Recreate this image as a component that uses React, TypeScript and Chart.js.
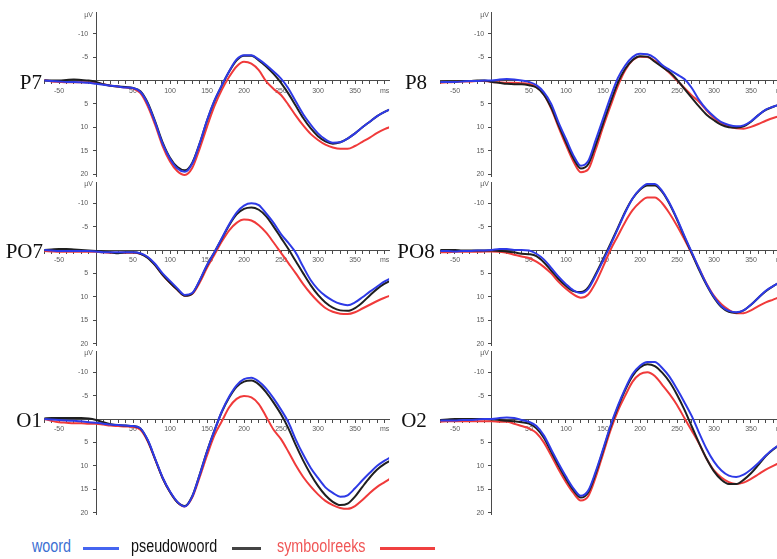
import React, { useEffect, useRef } from 'react';
import { Chart, registerables } from 'chart.js';

Chart.register(...registerables);

// time axis (ms)
const times = [-70, -60, -50, -40, -30, -20, -10, 0, 10, 20, 30, 40, 50, 60, 70, 80, 90, 100, 110, 120, 130, 140, 150, 160, 170, 180, 190, 200, 210, 220, 230, 240, 250, 260, 270, 280, 290, 300, 310, 320, 330, 340, 350, 360, 370, 380, 390, 400];

// amplitude tick labels (µV, negative up)
const yTickValues = [-10, -5, 0, 5, 10, 15, 20];

const p7Woord = [0.0, 0.1, 0.2, 0.3, 0.3, 0.4, 0.5, 0.7, 0.9, 1.1, 1.3, 1.5, 1.6, 2.4, 5.0, 9.0, 13.5, 16.7, 18.8, 19.5, 17.8, 13.5, 8.5, 4.3, 1.0, -2.0, -4.5, -5.4, -5.4, -4.5, -3.3, -1.9, -0.4, 1.7, 4.5, 7.2, 9.4, 11.3, 12.6, 13.3, 13.2, 12.4, 11.3, 10.0, 8.8, 7.6, 6.7, 6.0];
const p7Pseudo = [0.0, 0.0, 0.0, -0.1, -0.2, -0.1, 0.0, 0.3, 0.8, 1.1, 1.3, 1.4, 1.6, 2.3, 4.8, 8.8, 13.2, 16.5, 18.5, 19.2, 17.6, 13.5, 8.6, 4.4, 1.1, -1.9, -4.3, -5.3, -5.3, -4.3, -3.0, -1.4, 0.5, 2.8, 5.4, 8.0, 10.2, 11.9, 13.0, 13.5, 13.2, 12.4, 11.3, 10.0, 8.8, 7.6, 6.7, 6.0];
const p7Symbool = [-0.1, 0.2, 0.3, 0.4, 0.4, 0.4, 0.4, 0.5, 0.8, 1.1, 1.3, 1.5, 1.7, 2.7, 5.5, 9.5, 14.0, 17.3, 19.4, 20.2, 18.7, 14.6, 9.9, 5.5, 2.0, -0.8, -3.0, -4.0, -3.6, -2.2, 0.2, 1.8, 3.1, 5.2, 7.5, 9.6, 11.4, 12.7, 13.7, 14.3, 14.6, 14.6, 14.0, 13.1, 12.2, 11.2, 10.4, 9.8];

const p8Woord = [0.3, 0.3, 0.3, 0.2, 0.1, 0.1, 0.0, 0.0, -0.2, -0.3, -0.2, 0.0, 0.3, 1.0, 2.5, 5.0, 9.0, 12.5, 16.0, 18.2, 17.2, 12.8, 8.2, 3.6, -0.5, -3.2, -5.0, -5.7, -5.6, -4.8, -3.3, -2.3, -1.3, -0.3, 1.6, 4.2, 6.2, 7.7, 8.9, 9.5, 9.8, 9.6, 8.7, 7.4, 6.2, 5.6, 5.1, 4.7];
const p8Pseudo = [0.3, 0.2, 0.2, 0.1, 0.1, 0.0, 0.0, 0.3, 0.5, 0.7, 0.8, 0.8, 1.0, 1.5, 3.0, 5.8, 9.6, 13.2, 16.6, 18.8, 17.9, 13.8, 9.2, 4.7, 0.5, -2.5, -4.4, -5.2, -5.1, -4.0, -2.9, -1.8, -0.2, 1.8, 3.7, 5.6, 7.3, 8.5, 9.5, 10.0, 10.1, 9.8, 8.8, 7.4, 6.3, 5.6, 5.1, 4.7];
const p8Symbool = [0.5, 0.4, 0.3, 0.2, 0.2, 0.1, 0.1, 0.3, 0.4, 0.5, 0.5, 0.6, 0.7, 1.4, 3.0, 6.0, 10.0, 13.8, 17.3, 19.6, 19.0, 14.8, 10.0, 5.5, 1.2, -2.2, -4.3, -5.1, -5.0, -4.2, -3.0, -1.6, 0.0, 1.6, 3.2, 4.6, 6.4, 8.0, 9.1, 9.8, 10.2, 10.3, 9.9, 9.3, 8.6, 8.0, 7.6, 7.3];

const po7Woord = [0.0, 0.1, 0.2, 0.2, 0.2, 0.2, 0.2, 0.3, 0.5, 0.5, 0.5, 0.5, 0.5, 0.7, 1.5, 3.0, 5.0, 6.6, 8.2, 9.6, 9.2, 6.5, 3.2, 0.5, -2.5, -5.5, -8.0, -9.5, -10.0, -9.6, -7.8, -5.8, -3.4, -1.5, 0.6, 3.6, 6.4, 8.4, 9.8, 10.8, 11.5, 11.8, 11.2, 10.1, 8.9, 7.8, 6.7, 5.9];
const po7Pseudo = [0.0, -0.1, -0.2, -0.2, -0.1, 0.0, 0.1, 0.2, 0.3, 0.5, 0.7, 0.5, 0.5, 0.8, 1.7, 3.3, 5.3, 7.0, 8.5, 9.8, 9.3, 6.6, 3.3, 0.5, -2.4, -5.3, -7.6, -8.8, -9.1, -8.6, -7.2, -5.0, -2.6, -0.2, 2.4, 5.0, 7.5, 9.6, 11.2, 12.3, 12.9, 13.0, 12.4, 11.2, 9.7, 8.3, 7.2, 6.4];
const po7Symbool = [0.2, 0.3, 0.4, 0.4, 0.4, 0.4, 0.4, 0.4, 0.5, 0.6, 0.6, 0.6, 0.6, 0.8, 1.6, 3.2, 5.3, 7.0, 8.5, 9.8, 9.4, 7.0, 3.8, 1.0, -1.8, -4.2, -5.8, -6.5, -6.3, -5.3, -3.7, -1.6, 0.6, 2.8, 5.0, 7.3, 9.3, 11.0, 12.4, 13.2, 13.6, 13.7, 13.3, 12.5, 11.7, 10.9, 10.2, 9.6];

const po8Woord = [0.2, 0.2, 0.3, 0.2, 0.2, 0.1, 0.1, 0.0, -0.2, -0.2, 0.0, 0.0, 0.1, 0.8, 2.0, 3.8, 5.7, 7.3, 8.6, 9.2, 8.3, 5.5, 2.3, -1.0, -4.5, -8.0, -11.0, -13.0, -14.1, -14.1, -12.6, -10.0, -6.7, -3.0, 0.5, 4.0, 7.3, 10.0, 12.0, 13.0, 13.3, 12.9, 11.7, 10.2, 8.7, 7.7, 6.8, 6.3];
const po8Pseudo = [0.0, 0.0, 0.0, 0.1, 0.1, 0.1, 0.1, 0.1, 0.2, 0.3, 0.5, 0.8, 0.9, 1.3, 2.6, 4.4, 6.2, 7.7, 8.8, 9.0, 8.0, 5.2, 2.0, -1.3, -4.7, -8.2, -11.0, -12.9, -13.8, -13.8, -12.4, -9.8, -6.5, -2.8, 0.7, 4.3, 7.5, 10.2, 12.2, 13.2, 13.4, 12.9, 11.7, 10.2, 8.8, 7.7, 6.8, 6.3];
const po8Symbool = [0.5, 0.5, 0.4, 0.4, 0.4, 0.4, 0.3, 0.3, 0.4, 0.6, 1.0, 1.4, 1.7, 2.5, 3.6, 5.0, 6.8, 8.3, 9.5, 10.2, 9.5, 7.0, 3.6, 0.0, -3.0, -6.0, -8.5, -10.2, -11.2, -11.2, -10.0, -7.8, -5.2, -2.3, 0.8, 4.0, 7.2, 9.8, 11.6, 12.8, 13.5, 13.5, 12.9, 12.0, 11.2, 10.6, 10.0, 9.6];

const o1Woord = [0.0, 0.1, 0.2, 0.3, 0.4, 0.5, 0.7, 0.8, 1.0, 1.2, 1.3, 1.4, 1.5, 2.0, 4.5, 8.5, 12.5, 15.5, 17.7, 18.7, 16.6, 12.0, 7.0, 2.5, -1.6, -4.8, -7.2, -8.5, -8.8, -8.0, -6.5, -4.4, -2.0, 0.7, 4.4, 7.6, 10.4, 12.6, 14.6, 15.8, 16.6, 16.3, 14.8, 13.1, 11.5, 10.0, 8.9, 8.0];
const o1Pseudo = [-0.1, -0.2, -0.2, -0.2, -0.2, -0.2, -0.1, 0.2, 0.7, 1.1, 1.3, 1.4, 1.5, 2.0, 4.6, 8.6, 12.6, 15.6, 17.8, 18.6, 16.5, 11.9, 6.9, 2.5, -1.5, -4.6, -6.9, -8.0, -8.2, -7.4, -5.7, -3.5, -1.0, 2.0, 5.6, 8.9, 11.8, 14.3, 16.3, 17.7, 18.4, 18.1, 16.6, 14.5, 12.5, 10.8, 9.6, 8.7];
const o1Symbool = [0.0, 0.4, 0.7, 0.8, 0.9, 0.9, 1.0, 1.0, 1.2, 1.4, 1.5, 1.6, 1.7, 2.3, 4.8, 8.7, 12.6, 15.6, 17.8, 18.7, 16.8, 12.5, 7.8, 3.5, 0.5, -2.5, -4.3, -4.9, -4.6, -3.2, -0.5, 2.3, 4.3, 7.0, 9.9, 12.4, 14.4, 16.1, 17.5, 18.4, 19.0, 19.2, 18.6, 17.3, 15.8, 14.5, 13.5, 12.5];

const o2Woord = [0.3, 0.3, 0.3, 0.2, 0.2, 0.1, 0.0, 0.0, -0.2, -0.3, -0.2, 0.2, 0.6, 1.5, 3.5, 6.5, 9.5, 12.3, 14.8, 16.4, 15.3, 11.3, 6.5, 1.5, -2.8, -6.5, -9.6, -11.4, -12.2, -12.2, -10.9, -9.0, -6.4, -3.6, -0.6, 3.0, 6.4, 9.1, 11.0, 12.1, 12.4, 11.9, 10.8, 9.4, 7.8, 6.4, 5.4, 4.7];
const o2Pseudo = [0.2, 0.1, 0.0, 0.0, 0.0, 0.0, 0.0, 0.1, 0.2, 0.4, 0.5, 0.7, 1.0, 2.0, 4.0, 7.0, 10.0, 12.8, 15.2, 16.8, 15.7, 11.7, 6.8, 1.8, -2.5, -6.2, -9.2, -11.0, -11.7, -11.3, -9.9, -7.9, -5.2, -2.0, 1.6, 5.2, 8.5, 11.2, 13.0, 13.9, 13.9, 13.0, 11.6, 9.8, 7.9, 6.5, 5.4, 4.7];
const o2Symbool = [0.6, 0.5, 0.5, 0.5, 0.5, 0.5, 0.5, 0.5, 0.6, 0.6, 1.0, 1.5, 2.0, 3.0, 5.0, 7.8, 10.8, 13.5, 15.8, 17.4, 16.5, 12.5, 7.5, 2.5, -1.7, -5.0, -8.0, -9.6, -10.0, -9.2, -7.3, -5.3, -3.0, -0.2, 2.5, 5.3, 8.5, 11.0, 12.5, 13.5, 13.9, 13.6, 12.8, 11.8, 10.8, 10.0, 9.3, 8.8];

const seriesNames = ['woord', 'pseudowoord', 'symboolreeks'];

const BLUE = '#2e3ae6';
const BLACK = '#1f1f1f';
const RED = '#f03a3a';
const AXIS = '#4a4a4a';
const TICK = '#5a5a5a';
const SANS = "'Liberation Sans', Arial, sans-serif";
const SERIF = "'Liberation Serif', 'Times New Roman', serif";

const X_MIN = -70;
const X_MAX = 396;
const Y_MIN = -14.5;
const Y_MAX = 20.5;
const PX_MS = 0.74;
const PX_UV = 4.68;

type PanelProps = {
  name: string;
  axisX: number;
  zeroY: number;
  woord: number[];
  pseudo: number[];
  symbool: number[];
  nameLeft: number;
  nameWidth: number;
  nameAlign: 'right' | 'center';
};

function mkDataset(label: string, values: number[], color: string) {
  return {
    label,
    data: times.map((t, i) => ({ x: t, y: values[i] })),
    borderColor: color,
    backgroundColor: color,
    borderWidth: 2,
    pointRadius: 0,
    cubicInterpolationMode: 'monotone' as const,
    fill: false,
  };
}

function Panel(p: PanelProps) {
  const ref = useRef<HTMLCanvasElement | null>(null);
  const areaLeft = p.axisX + X_MIN * PX_MS;
  const areaRight = p.axisX + X_MAX * PX_MS;
  const areaTop = p.zeroY + Y_MIN * PX_UV;
  const areaBottom = p.zeroY + Y_MAX * PX_UV;
  const cLeft = Math.floor(areaLeft) - 40;
  const cTop = Math.floor(areaTop) - 14;
  const cWidth = Math.ceil(areaRight) - cLeft + 16;
  const cHeight = Math.ceil(areaBottom) - cTop + 14;
  const pad = {
    left: areaLeft - cLeft,
    top: areaTop - cTop,
    right: cLeft + cWidth - areaRight,
    bottom: cTop + cHeight - areaBottom,
  };

  useEffect(() => {
    if (!ref.current) return;
    const chart = new Chart(ref.current, {
      type: 'line',
      data: {
        datasets: [
          mkDataset(seriesNames[0], p.woord, BLUE),
          mkDataset(seriesNames[1], p.pseudo, BLACK),
          mkDataset(seriesNames[2], p.symbool, RED),
        ],
      },
      options: {
        responsive: false,
        animation: false,
        devicePixelRatio: 1,
        events: [],
        layout: { padding: pad },
        plugins: { legend: { display: false }, tooltip: { enabled: false } },
        scales: {
          x: {
            type: 'linear',
            min: X_MIN,
            max: X_MAX,
            position: { y: 0 } as any,
            grid: { display: true, drawOnChartArea: false, drawTicks: true, tickLength: 3, color: AXIS, tickColor: AXIS },
            border: { display: true, color: AXIS, width: 1 },
            ticks: {
              stepSize: 10,
              autoSkip: false,
              maxRotation: 0,
              includeBounds: false,
              padding: 3,
              color: TICK,
              font: { family: SANS, size: 7 },
              callback: (v: any) => {
                const n = Number(v);
                if (n === 390) return 'ms';
                if (n !== 0 && n % 50 === 0) return String(n);
                return '';
              },
            },
          },
          y: {
            type: 'linear',
            min: Y_MIN,
            max: Y_MAX,
            reverse: true,
            position: { x: 0 } as any,
            afterBuildTicks: (scale: any) => {
              scale.ticks = yTickValues.map((v) => ({ value: v }));
            },
            grid: { display: true, drawOnChartArea: false, drawTicks: true, tickLength: 3, color: AXIS, tickColor: AXIS },
            border: { display: true, color: AXIS, width: 1 },
            ticks: {
              padding: 3,
              color: TICK,
              font: { family: SANS, size: 7 },
              // trailing spaces keep the label clear of the axis line
              callback: (v: any) => (Number(v) === 0 ? '' : String(v) + '    '),
            },
          },
        },
      },
    });
    return () => chart.destroy();
  }, []);

  return (
    <>
      <canvas
        ref={ref}
        width={cWidth}
        height={cHeight}
        style={{ position: 'absolute', left: cLeft, top: cTop, width: cWidth, height: cHeight }}
      />
      <div
        style={{
          position: 'absolute',
          left: p.axisX - 20,
          width: 17,
          top: p.zeroY - 71,
          textAlign: 'right',
          font: `7px ${SANS}`,
          color: TICK,
          lineHeight: '10px',
        }}
      >
        µV
      </div>
      <div
        style={{
          position: 'absolute',
          left: p.nameLeft,
          width: p.nameWidth,
          top: p.zeroY - 11,
          textAlign: p.nameAlign,
          font: `21px ${SERIF}`,
          lineHeight: '24px',
          color: '#111',
          whiteSpace: 'nowrap',
        }}
      >
        {p.name}
      </div>
    </>
  );
}

export default function App() {
  const legendText = {
    position: 'absolute' as const,
    top: 536,
    font: `17.5px ${SANS}`,
    lineHeight: '20px',
    whiteSpace: 'nowrap' as const,
    transform: 'scaleX(0.82)',
    transformOrigin: 'left center',
  };
  const legendLine = { position: 'absolute' as const, top: 547, height: 2.5 };
  return (
    <div style={{ position: 'absolute', left: 0, top: 0, width: 777, height: 559, overflow: 'hidden', background: '#fff' }}>
      <Panel name="P7" axisX={96} zeroY={80.5} woord={p7Woord} pseudo={p7Pseudo} symbool={p7Symbool} nameLeft={0} nameWidth={42} nameAlign="right" />
      <Panel name="PO7" axisX={96} zeroY={250} woord={po7Woord} pseudo={po7Pseudo} symbool={po7Symbool} nameLeft={0} nameWidth={43} nameAlign="right" />
      <Panel name="O1" axisX={96} zeroY={419} woord={o1Woord} pseudo={o1Pseudo} symbool={o1Symbool} nameLeft={0} nameWidth={42} nameAlign="right" />
      <Panel name="P8" axisX={492} zeroY={80.5} woord={p8Woord} pseudo={p8Pseudo} symbool={p8Symbool} nameLeft={386} nameWidth={60} nameAlign="center" />
      <Panel name="PO8" axisX={492} zeroY={250} woord={po8Woord} pseudo={po8Pseudo} symbool={po8Symbool} nameLeft={386} nameWidth={60} nameAlign="center" />
      <Panel name="O2" axisX={492} zeroY={419} woord={o2Woord} pseudo={o2Pseudo} symbool={o2Symbool} nameLeft={384} nameWidth={60} nameAlign="center" />

      <div style={{ ...legendText, left: 32, color: '#3c6fd2' }}>{seriesNames[0]}</div>
      <div style={{ ...legendLine, left: 83, width: 36, background: '#4565f0' }} />
      <div style={{ ...legendText, left: 131, color: '#111' }}>{seriesNames[1]}</div>
      <div style={{ ...legendLine, left: 232, width: 29, background: '#444' }} />
      <div style={{ ...legendText, left: 277, color: '#f05656' }}>{seriesNames[2]}</div>
      <div style={{ ...legendLine, left: 380, width: 55, background: '#f04040' }} />
    </div>
  );
}
